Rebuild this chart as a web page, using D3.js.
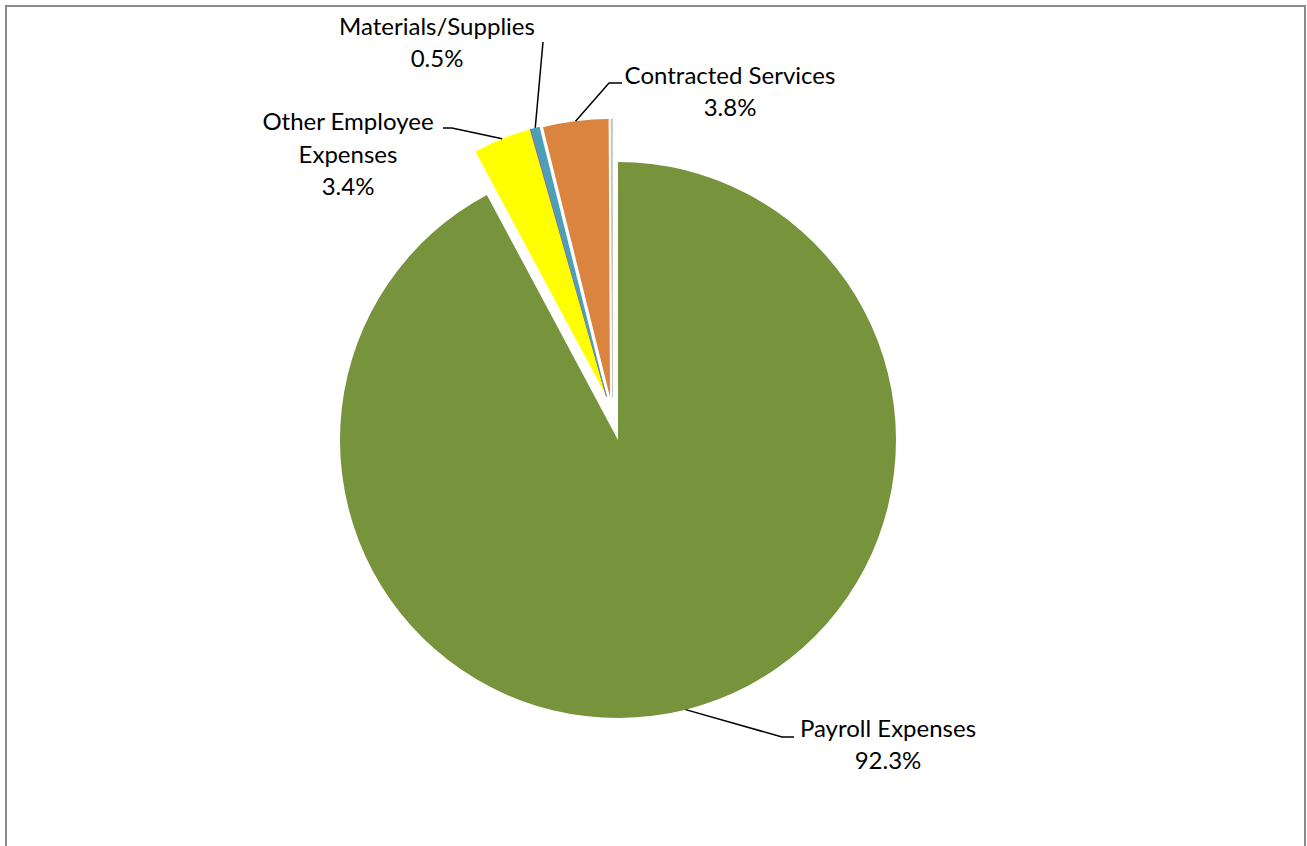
<!DOCTYPE html>
<html>
<head>
<meta charset="utf-8">
<script src="https://cdn.jsdelivr.net/npm/d3@7"></script>
<style>
  html, body { margin: 0; padding: 0; background: #ffffff; }
  svg { display: block; }
  text { font-family: Lato, "Open Sans", sans-serif; fill: #000; }
</style>
</head>
<body>
<svg id="chart" width="1307" height="846"></svg>
<script>
// Expense categories, in clockwise order from 12 o'clock
const categories = ["Payroll Expenses", "Other Employee Expenses", "", "Materials/Supplies", "Contracted Services", ""];
// Share of total spending (percent)
const shares = [92.3, 3.4, 0.05, 0.5, 3.8, 0.08];
// Label lines shown beside each slice
const labelLines = [
  ["Payroll Expenses", "92.3%"],
  ["Other Employee", "Expenses", "3.4%"],
  [],
  ["Materials/Supplies", "0.5%"],
  ["Contracted Services", "3.8%"],
  []
];

const colors = ["#77933C", "#FFFF00", "#7F6AA6", "#4B9FB8", "#DA843F", "#C4C4BC"];

const W = 1307, H = 846;
const cx = 618, cy = 440, R = 278;

// Pulled-out slices: offset of each slice's apex from the pie centre
const explode = [[0, 0], [-11.5, -43.5], [-11.5, -43.5], [-11.5, -43.5], [-8, -43], [-5.5, -43]];

// Label anchors (baseline of first text line) and leader-line elbows
const labelLayout = [
  { x: 888, y: 737, elbow: [[782, 737], [794, 737]] },
  { x: 348, y: 130, lh: 32.5, elbow: [[452, 128], [443, 128]] },
  null,
  { x: 437, y: 35, elbow: [[543, 42]] },
  { x: 730, y: 84, elbow: [[609, 83], [622, 83]] },
  null
];

const svg = d3.select("#chart");

// chart area frame
svg.append("rect")
  .attr("x", 6).attr("y", 6)
  .attr("width", 1299).attr("height", 900)
  .attr("fill", "none")
  .attr("stroke", "#8c8c8c")
  .attr("stroke-width", 2);

const pie = d3.pie().sort(null).value(d => d)(shares);
const arc = d3.arc().innerRadius(0).outerRadius(R);
const rimArc = d3.arc().innerRadius(R).outerRadius(R);

const g = svg.append("g").attr("transform", `translate(${cx},${cy})`);

g.selectAll("path.slice")
  .data(pie)
  .join("path")
  .attr("class", "slice")
  .attr("transform", (d, i) => `translate(${explode[i][0]},${explode[i][1]})`)
  .attr("d", arc)
  .attr("fill", (d, i) => colors[i])
  .attr("stroke", (d, i) => (shares[i] < 0.2 ? colors[i] : "none"))
  .attr("stroke-width", (d, i) => (shares[i] < 0.2 ? 0.8 : 0));

// leader lines from the outer rim midpoint of each labelled slice
pie.forEach((d, i) => {
  const L = labelLayout[i];
  if (!L) return;
  const m = rimArc.centroid(d);
  const start = [cx + explode[i][0] + m[0], cy + explode[i][1] + m[1]];
  const pts = [start, ...L.elbow];
  svg.append("path")
    .attr("d", d3.line()(pts))
    .attr("fill", "none")
    .attr("stroke", "#000")
    .attr("stroke-width", 1.5);
});

// data labels
labelLines.forEach((lines, i) => {
  const L = labelLayout[i];
  if (!L || !categories[i]) return;
  const lh = L.lh || 32;
  lines.forEach((t, k) => {
    svg.append("text")
      .attr("x", L.x)
      .attr("y", L.y + k * lh)
      .attr("text-anchor", "middle")
      .attr("font-size", 24)
      .text(t);
  });
});
</script>
</body>
</html>
